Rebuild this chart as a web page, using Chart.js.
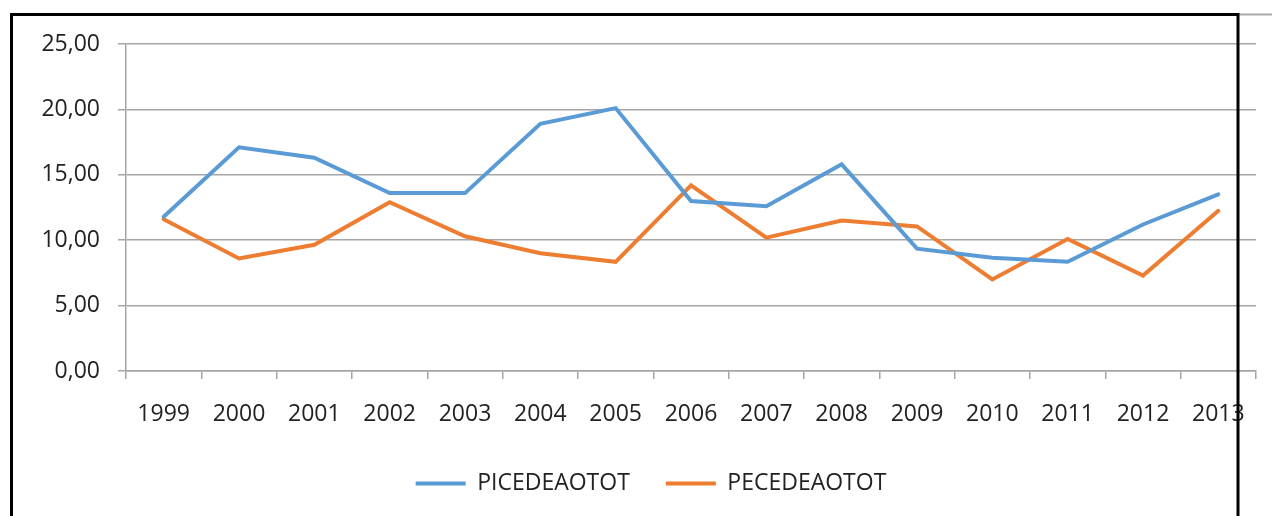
<!DOCTYPE html>
<html>
<head>
<meta charset="utf-8">
<script src="https://cdn.jsdelivr.net/npm/chart.js@4"></script>
<style>
  html, body { margin: 0; padding: 0; background: #ffffff; }
  #wrap { width: 1272px; height: 516px; position: relative; }
</style>
</head>
<body>
<div id="wrap"><canvas id="lineChart"></canvas></div>
<script>
const years = ['1999', '2000', '2001', '2002', '2003', '2004', '2005', '2006', '2007', '2008', '2009', '2010', '2011', '2012', '2013'];
const picedeaotot = [11.8, 17.1, 16.3, 13.6, 13.6, 18.9, 20.1, 13.0, 12.6, 15.8, 9.35, 8.65, 8.35, 11.2, 13.5];
const pecedeaotot = [11.6, 8.6, 9.65, 12.9, 10.3, 9.0, 8.35, 14.2, 10.2, 11.5, 11.05, 7.0, 10.1, 7.3, 12.25];

Chart.defaults.font.family = '"Open Sans", sans-serif';
Chart.defaults.color = '#222222';

// black frame from the original screenshot, drawn over the plot
const framePlugin = {
    id: 'frame',
    afterLayout(chart) {
        // legend in the original sits a bit right of the canvas centre
        chart.legend.left += 23;
        chart.legend.right += 23;
    },
    afterDraw(chart) {
        const c = chart.ctx;
        c.save();
        c.strokeStyle = '#aaaaaa';
        c.lineWidth = 2;
        c.beginPath();
        c.moveTo(1238, 14.5);
        c.lineTo(1272, 14.5);
        c.stroke();
        c.strokeStyle = '#000000';
        c.lineWidth = 3;
        c.beginPath();
        c.moveTo(11.5, 516);
        c.lineTo(11.5, 14.5);
        c.lineTo(1238, 14.5);
        c.lineTo(1238, 516);
        c.stroke();
        c.restore();
    }
};

ctx = document.getElementById('lineChart').getContext('2d');

lineChart = new Chart(ctx, {
    type: 'line',
    data: {
        labels: years,
        datasets: [
            { label: 'PICEDEAOTOT', data: picedeaotot, borderColor: '#5b9bd5', backgroundColor: '#5b9bd5', borderWidth: 4, borderCapStyle: 'round', pointRadius: 0, tension: 0, fill: false },
            { label: 'PECEDEAOTOT', data: pecedeaotot, borderColor: '#ed7d31', backgroundColor: '#ed7d31', borderWidth: 4, borderCapStyle: 'round', pointRadius: 0, tension: 0, fill: false }
        ]
    },
    options: {
        responsive: true,
        maintainAspectRatio: false,
        animation: false,
        layout: { padding: { left: 0, right: 16, top: 44, bottom: 11 } },
        plugins: {
            tooltip: { enabled: false },
            legend: {
                position: 'bottom',
                labels: {
                    usePointStyle: true,
                    pointStyle: 'line',
                    pointStyleWidth: 50,
                    padding: 36,
                    color: '#222222',
                    font: { size: 23 }
                }
            }
        },
        scales: {
            x: {
                offset: true,
                grid: {
                    display: true,
                    offset: true,
                    drawOnChartArea: false,
                    drawTicks: true,
                    tickLength: 8,
                    color: '#a6a6a6',
                    lineWidth: 1.5
                },
                border: { color: '#a6a6a6', width: 1.5 },
                ticks: { font: { size: 23 }, padding: 22, maxRotation: 0, autoSkip: false, color: '#222222' },
                afterFit: function (scale) { scale.height = 65; }
            },
            y: {
                min: 0,
                max: 25,
                grid: {
                    color: '#a6a6a6',
                    lineWidth: 1.5,
                    drawTicks: true,
                    tickLength: 8
                },
                border: { color: '#a6a6a6', width: 1.5 },
                ticks: {
                    stepSize: 5,
                    padding: 18,
                    font: { size: 23 },
                    color: '#222222',
                    callback: function (v) { return v.toFixed(2).replace('.', ','); }
                },
                afterFit: function (scale) { scale.width = 126; }
            }
        }
    },
    plugins: [framePlugin]
});
</script>
</body>
</html>
